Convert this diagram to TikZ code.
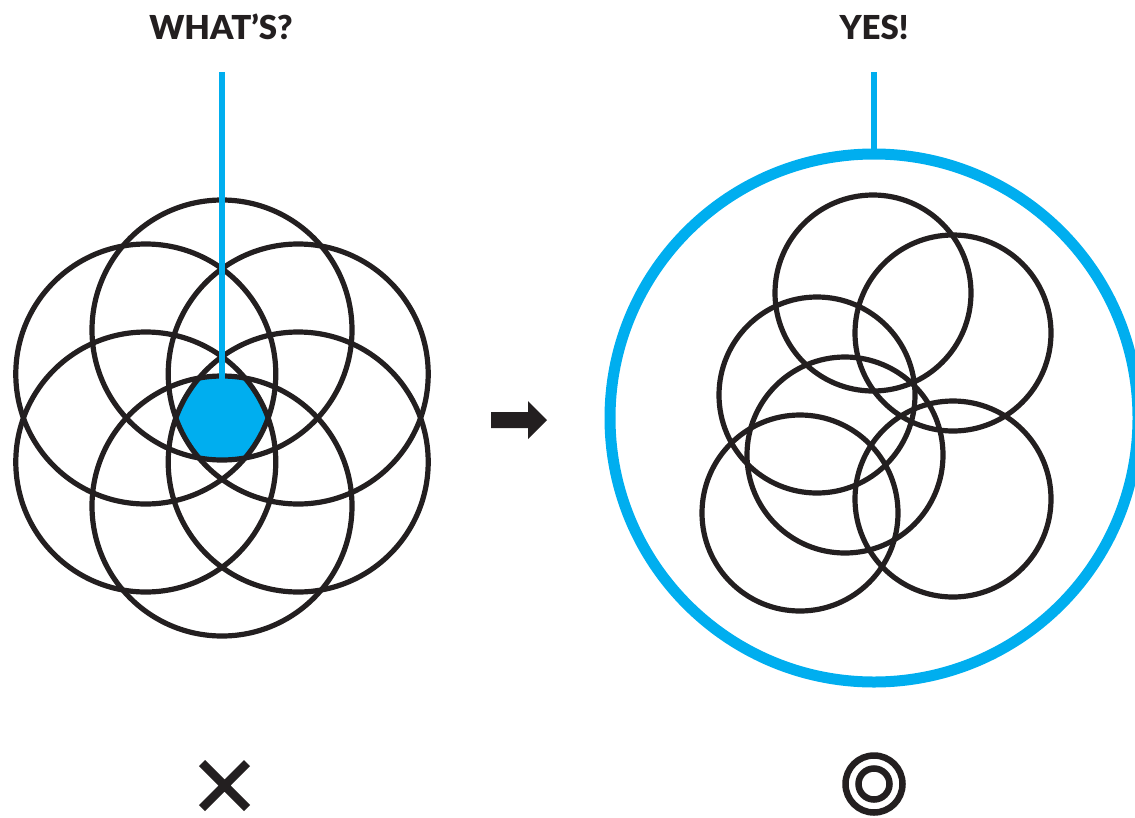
\documentclass[tikz,border=0pt]{standalone}
\usepackage{fontspec}
\setmainfont{Lato}[BoldFont={Lato Black}]
\usetikzlibrary{calc}
\definecolor{cyanb}{HTML}{00AEEF}
\definecolor{ink}{HTML}{231F20}
\begin{document}
\begin{tikzpicture}[x=1pt,y=-1pt,
  ring/.style={draw=ink,line width=5.2pt},
  bluel/.style={draw=cyanb,line width=6.5pt},
  title/.style={font=\fontsize{33}{36}\selectfont\bfseries,text=ink,inner sep=0pt}]
\useasboundingbox (0,0) rectangle (1135,817);
% ---- left: six overlapping circles
\coordinate (L) at (222,418);
\begin{scope}
  \foreach \a in {90,30,-30,-90,-150,150}{
    \clip ($(L)+(\a:88)$) circle (130);
  }
  \fill[cyanb] (L) circle (60);
\end{scope}
\foreach \a in {90,30,-30,-90,-150,150}{
  \draw[ring] ($(L)+(\a:88)$) circle (130);
}
\coordinate (Ltop) at (222,72);
\coordinate (Lbot) at (222,392);
\draw[bluel] (Ltop) -- (Lbot);
\node[title] (what) at (221,27) {WHAT’S?};
% ---- arrow
\fill[ink] (491,412) -- (528,412) -- (528,401) -- (547,420) -- (528,439) -- (528,428) -- (491,428) -- cycle;
% ---- right
\coordinate (R) at (874,418);
\draw[cyanb,line width=11pt] (R) circle (264);
\coordinate (Rtop) at (874,72);
\coordinate (Rc) at (874,156);
\draw[bluel] (Rtop) -- (Rc);
\node[title] (yes) at (874,27) {YES!};
\foreach \p in {(873,293),(953,333),(817,395),(845,455),(800,513),(953,499)}{
  \draw[ring] \p circle (98);
}
% ---- marks
\draw[ink,line width=8.5pt] (202,763) -- (247,808) (247,763) -- (202,808);
\draw[ink,line width=6.5pt] (874,784) circle (28.5) (874,784) circle (15.5);
\end{tikzpicture}
\end{document}
